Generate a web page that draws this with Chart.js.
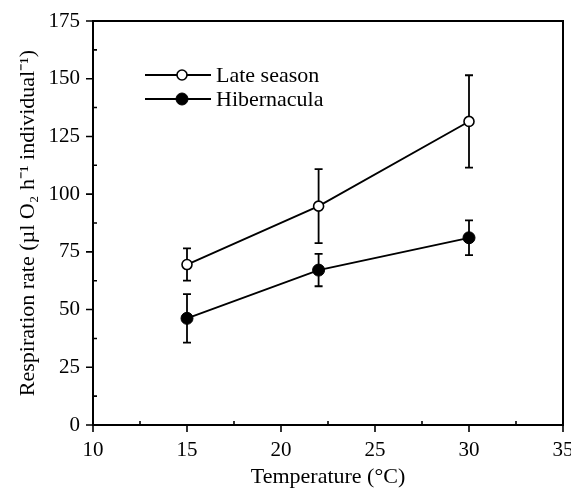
<!DOCTYPE html>
<html>
<head>
<meta charset="utf-8">
<script src="https://cdn.jsdelivr.net/npm/chart.js@4.4.1/dist/chart.umd.min.js"></script>
<style>
  html, body { margin: 0; padding: 0; background: #fff; }
  #wrap { width: 571px; height: 488px; }
</style>
</head>
<body>
<div id="wrap"><canvas id="canvas"></canvas></div>
<script>
// MARK: Data
const temps = [15, 22, 30];
const lateSeason = [69.5, 94.8, 131.5];
const lateSeasonErr = [7, 16, 20];
const hibernacula = [46.2, 67.1, 81.1];
const hibernaculaErr = [10.5, 7, 7.5];
const seriesNames = ['Late season', 'Hibernacula'];

const xTicks = [10, 15, 20, 25, 30, 35];
const yTicks = [0, 25, 50, 75, 100, 125, 150, 175];

const FONT = 'Liberation Serif';

// MARK: Plugins
const errorBars = {
  id: 'errorBars',
  beforeDatasetsDraw(chart) {
    const { ctx, scales: { x, y } } = chart;
    ctx.save();
    ctx.strokeStyle = '#000';
    ctx.lineWidth = 1.8;
    chart.data.datasets.forEach(ds => {
      ds.data.forEach((p, i) => {
        const px = x.getPixelForValue(p.x);
        const top = y.getPixelForValue(p.y + ds.errors[i]);
        const bot = y.getPixelForValue(p.y - ds.errors[i]);
        ctx.beginPath();
        ctx.moveTo(px, top); ctx.lineTo(px, bot);
        ctx.moveTo(px - 4, top); ctx.lineTo(px + 4, top);
        ctx.moveTo(px - 4, bot); ctx.lineTo(px + 4, bot);
        ctx.stroke();
      });
    });
    ctx.restore();
  }
};

const frame = {
  id: 'frame',
  afterDraw(chart) {
    const { ctx, chartArea: a, scales: { x, y } } = chart;
    ctx.save();
    ctx.strokeStyle = '#000';
    ctx.lineWidth = 2;
    ctx.strokeRect(a.left, a.top, a.right - a.left, a.bottom - a.top);
    ctx.lineWidth = 1.6;
    ctx.beginPath();
    // major ticks point out, minor ticks point in
    yTicks.forEach((v, i) => {
      const py = y.getPixelForValue(v);
      ctx.moveTo(a.left - 7, py); ctx.lineTo(a.left, py);
      if (i < yTicks.length - 1) {
        const my = y.getPixelForValue((v + yTicks[i + 1]) / 2);
        ctx.moveTo(a.left, my); ctx.lineTo(a.left + 4, my);
      }
    });
    xTicks.forEach((v, i) => {
      const px = x.getPixelForValue(v);
      ctx.moveTo(px, a.bottom); ctx.lineTo(px, a.bottom + 7);
      if (i < xTicks.length - 1) {
        const mx = x.getPixelForValue((v + xTicks[i + 1]) / 2);
        ctx.moveTo(mx, a.bottom); ctx.lineTo(mx, a.bottom - 4);
      }
    });
    ctx.stroke();

    // legend
    const rows = [75, 99];
    chart.data.datasets.forEach((ds, i) => {
      const ly = rows[i];
      ctx.lineWidth = 1.8;
      ctx.beginPath();
      ctx.moveTo(145, ly); ctx.lineTo(211, ly);
      ctx.stroke();
      ctx.beginPath();
      ctx.arc(182, ly, ds.pointRadius, 0, Math.PI * 2);
      ctx.fillStyle = ds.pointBackgroundColor;
      ctx.fill();
      ctx.lineWidth = ds.pointBorderWidth;
      ctx.stroke();
      ctx.fillStyle = '#000';
      ctx.font = `22px "${FONT}"`;
      ctx.textBaseline = 'middle';
      ctx.fillText(ds.label, 216, ly + 1);
    });
    ctx.restore();
  }
};

// MARK: Chart
const ctx = document.getElementById('canvas').getContext('2d');

const chart = new Chart(ctx, {
  type: 'line',
  data: {
    datasets: [
      {
        label: seriesNames[0],
        data: temps.map((t, i) => ({ x: t, y: lateSeason[i] })),
        errors: lateSeasonErr,
        borderColor: '#000',
        borderWidth: 1.8,
        pointRadius: 5,
        pointBorderWidth: 1.6,
        pointBackgroundColor: '#fff',
        pointBorderColor: '#000',
        tension: 0
      },
      {
        label: seriesNames[1],
        data: temps.map((t, i) => ({ x: t, y: hibernacula[i] })),
        errors: hibernaculaErr,
        borderColor: '#000',
        borderWidth: 1.8,
        pointRadius: 6,
        pointBorderWidth: 1,
        pointBackgroundColor: '#000',
        pointBorderColor: '#000',
        tension: 0
      }
    ]
  },
  options: {
    animation: false,
    responsive: true,
    maintainAspectRatio: false,
    layout: { padding: { top: 21, right: 8, left: 0, bottom: 0 } },
    plugins: {
      legend: { display: false },
      tooltip: { enabled: false }
    },
    scales: {
      x: {
        type: 'linear',
        min: 10,
        max: 35,
        afterBuildTicks: s => { s.ticks = xTicks.map(v => ({ value: v })); },
        afterFit: s => { s.height = 63; s.paddingLeft = 0; s.paddingRight = 0; },
        grid: { display: false, drawTicks: false },
        border: { display: false },
        ticks: { color: '#000', padding: 13, font: { family: FONT, size: 21 } },
        title: {
          display: true,
          text: 'Temperature (°C)',
          color: '#000',
          padding: { top: 0, bottom: 0 },
          font: { family: FONT, size: 22, lineHeight: 1 }
        }
      },
      y: {
        min: 0,
        max: 175,
        afterBuildTicks: s => { s.ticks = yTicks.map(v => ({ value: v })); },
        afterFit: s => { s.width = 93; s.paddingTop = 0; s.paddingBottom = 0; },
        grid: { display: false, drawTicks: false },
        border: { display: false },
        ticks: { color: '#000', padding: 13, font: { family: FONT, size: 21 } },
        title: {
          display: true,
          text: 'Respiration rate (µl O₂ h⁻¹ individual⁻¹)',
          color: '#000',
          padding: { top: 17, bottom: 0 },
          font: { family: FONT, size: 22, lineHeight: 1 }
        }
      }
    }
  },
  plugins: [errorBars, frame]
});
</script>
</body>
</html>
